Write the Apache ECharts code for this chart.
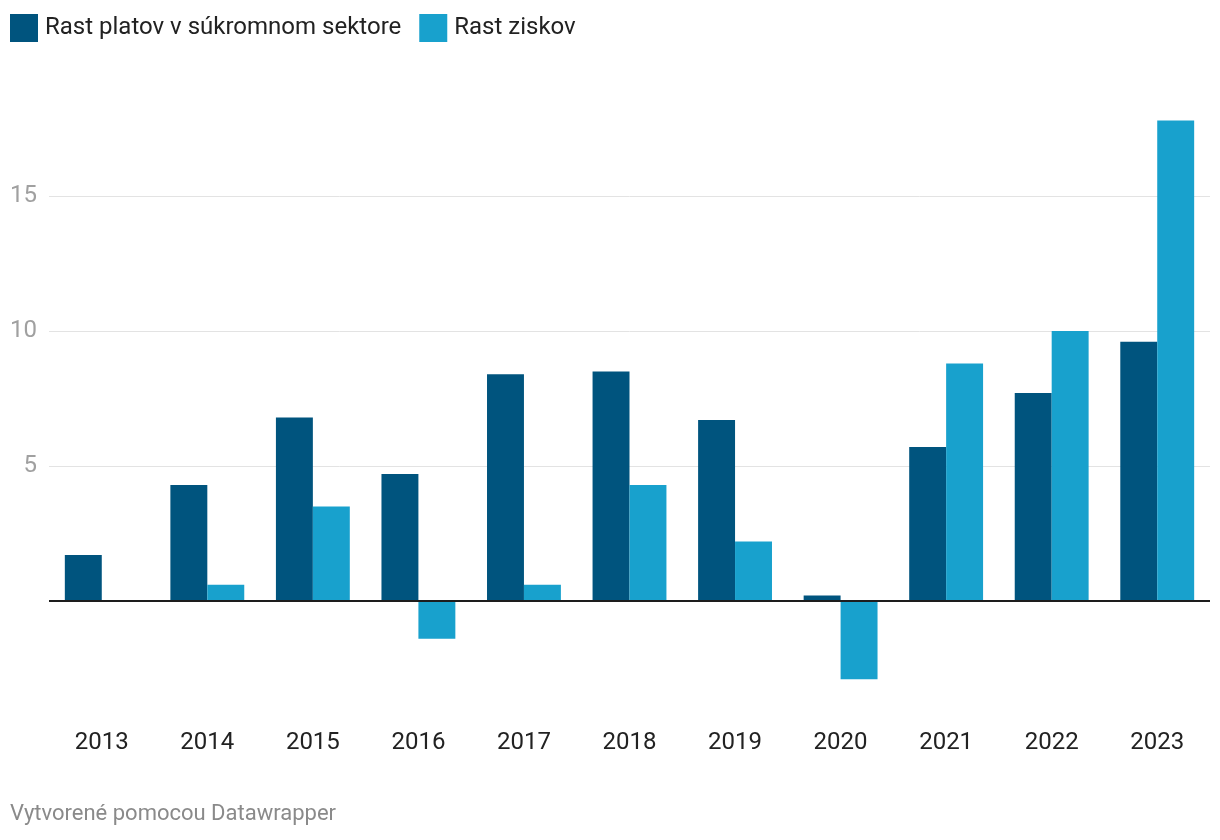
<!DOCTYPE html>
<html>
<head>
<meta charset="utf-8">
<script src="https://cdn.jsdelivr.net/npm/echarts@6/dist/echarts.min.js"></script>
<style>
html,body{margin:0;padding:0;background:#fff;}
#chart{width:1220px;height:840px;}
</style>
</head>
<body>
<div id="chart"></div>
<script>
const years = ['2013','2014','2015','2016','2017','2018','2019','2020','2021','2022','2023'];
const wageGrowth = [1.7, 4.3, 6.8, 4.7, 8.4, 8.5, 6.7, 0.2, 5.7, 7.7, 9.6];
const profitGrowth = [0, 0.6, 3.5, -1.4, 0.6, 4.3, 2.2, -2.9, 8.8, 10.0, 17.8];
const seriesNames = ['Rast platov v súkromnom sektore', 'Rast ziskov'];
const footerText = 'Vytvorené pomocou Datawrapper';

const chart = echarts.init(document.getElementById('chart'), null, {renderer:'canvas'});
const FONT = 'Roboto';
chart.setOption({
  animation: false,
  textStyle: {fontFamily: FONT},
  legend: {
    left: 10, top: 14, padding: 0, itemWidth: 28, itemHeight: 28, itemGap: 18, icon: 'rect',
    textStyle: {fontSize: 24, color: '#222', fontFamily: FONT, padding: [0,0,0,2]},
    data: seriesNames
  },
  grid: {left: 49, right: 10, top: 61, height: 675, containLabel: false},
  xAxis: {
    type: 'category', data: years, offset: -18,
    axisLine: {show: false, onZero: false}, axisTick: {show: false},
    axisLabel: {fontSize: 24, color: '#222', margin: 13, fontFamily: FONT}
  },
  yAxis: {
    type: 'value', min: -5, max: 20, interval: 5,
    axisLine: {show: false}, axisTick: {show: false},
    splitLine: {show: true, showMinLine: false, showMaxLine: false, lineStyle: {color: '#e3e3e3', width: 1}},
    axisLabel: {
      fontSize: 24, color: '#a0a0a0', margin: 12, fontFamily: FONT,
      formatter: v => (v === 0 || v === -5 || v === 20) ? '' : String(v)
    }
  },
  series: [
    {
      name: seriesNames[0], type: 'bar', data: wageGrowth,
      itemStyle: {color: '#00547e'}, barGap: '0%', barCategoryGap: '30%',
      markLine: {
        silent: true, symbol: 'none', z: 10,
        label: {show: false},
        lineStyle: {color: '#1d1d1d', width: 2, type: 'solid'},
        data: [{yAxis: 0}]
      }
    },
    {
      name: seriesNames[1], type: 'bar', data: profitGrowth,
      itemStyle: {color: '#18a1cd'}, barGap: '0%', barCategoryGap: '30%'
    }
  ],
  graphic: [{
    type: 'text', left: 10, top: 803,
    style: {text: footerText, fontSize: 22, fill: '#8a8a8a', fontFamily: FONT}
  }]
});
</script>
</body>
</html>
